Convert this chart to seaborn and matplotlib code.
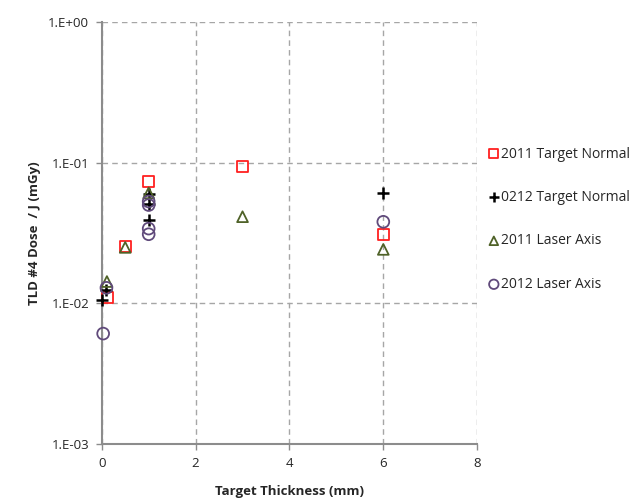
import matplotlib
matplotlib.use("Agg")
import matplotlib.pyplot as plt
import seaborn as sns
import pandas as pd
from matplotlib.ticker import FixedLocator, FixedFormatter, NullLocator

# Data
tn2011_x = [0.13, 0.5, 1.0, 3.0, 6.0]
tn2011_y = [0.011, 0.0253, 0.073, 0.094, 0.031]

tn0212_x = [0.01, 0.1, 1.0, 1.0, 1.0, 6.0]
tn0212_y = [0.0106, 0.0125, 0.060, 0.051, 0.039, 0.061]

la2011_x = [0.11, 0.5, 1.0, 3.0, 6.0]
la2011_y = [0.0143, 0.0250, 0.061, 0.0413, 0.0242]

la2012_x = [0.03, 0.1, 1.0, 1.0, 1.0, 1.0, 6.0]
la2012_y = [0.0061, 0.0129, 0.053, 0.050, 0.034, 0.031, 0.038]

series_names = ["2011 Target Normal", "0212 Target Normal", "2011 Laser Axis", "2012 Laser Axis"]
y_ticks = [1e-3, 1e-2, 1e-1, 1e0]
y_tick_labels = ["1.E-03", "1.E-02", "1.E-01", "1.E+00"]
x_ticks = [0, 2, 4, 6, 8]

sns.set_theme(style="white")
plt.rcParams['font.family'] = ['Open Sans', 'DejaVu Sans']

fig = plt.figure(figsize=(6.32, 4.99), dpi=100)
ax = fig.add_axes([0.161, 0.110, 0.594, 0.846])

specs = [
    (tn2011_x, tn2011_y, "s", "#FF2020", 62, True),
    (tn0212_x, tn0212_y, "+", "black", 75, False),
    (la2011_x, la2011_y, "^", "#4F6228", 60, True),
    (la2012_x, la2012_y, "o", "#604A7B", 72, True),
]
for (xs, ys, m, c, s, hollow), name in zip(specs, series_names):
    df = pd.DataFrame({"x": xs, "y": ys})
    if hollow:
        sns.scatterplot(data=df, x="x", y="y", marker=m, s=s, facecolor="none",
                        edgecolor=c, linewidth=1.3, label=name, ax=ax, zorder=3, clip_on=False)
    else:
        sns.scatterplot(data=df, x="x", y="y", marker=m, s=s, color=c,
                        linewidth=1.8, label=name, ax=ax, zorder=3, clip_on=False)

ax.set_yscale("log")
ax.set_ylim(1e-3, 1)
ax.set_xlim(0, 8)
ax.yaxis.set_major_locator(FixedLocator(y_ticks))
ax.yaxis.set_major_formatter(FixedFormatter(y_tick_labels))
ax.yaxis.set_minor_locator(NullLocator())
ax.set_xticks(x_ticks)

ax.grid(True, which="major", color="#A6A6A6", linestyle=(0, (4, 3)), linewidth=1.0)
for sp in ["top", "right"]:
    ax.spines[sp].set_visible(False)
for sp in ["left", "bottom"]:
    ax.spines[sp].set_color("#8C8C8C")
    ax.spines[sp].set_linewidth(1.5)
ax.tick_params(axis="both", which="major", length=4, width=1, color="#8C8C8C",
               labelsize=9.5, direction="out", left=True, bottom=True, pad=5)
ax.set_axisbelow(True)

ax.set_xlabel("Target Thickness (mm)", fontsize=9.5, fontweight="bold", labelpad=11)
ax.set_ylabel("TLD #4 Dose  / J (mGy)", fontsize=9.5, fontweight="bold", labelpad=5)

leg = ax.legend(loc="upper left", bbox_to_anchor=(1.0, 0.728), frameon=False,
                fontsize=10, handletextpad=0.05, labelspacing=2.05, borderaxespad=0.3,
                markerscale=0.8, handlelength=1.0)

fig.savefig("out.png", dpi=100)
